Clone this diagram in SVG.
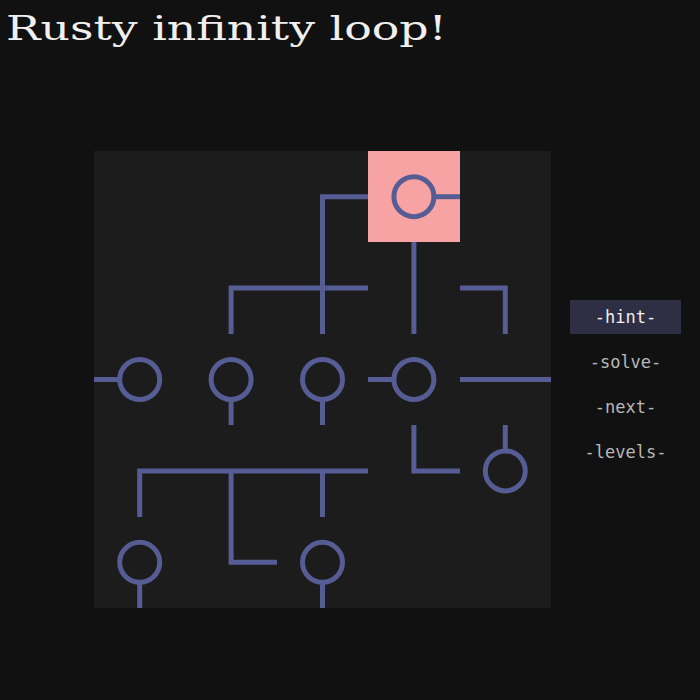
<svg xmlns="http://www.w3.org/2000/svg" width="700" height="700" viewBox="0 0 700 700">
<style>
.p{fill:none;stroke:#565c94;stroke-width:5}
.m{font-family:"DejaVu Sans Mono",monospace;font-size:17px;fill:#b8b8b8;text-anchor:middle}
</style>
<rect width="700" height="700" fill="#111111"/>
<text x="6" y="40" font-family="DejaVu Serif,serif" font-size="34" fill="#f0f0f0" textLength="441" lengthAdjust="spacingAndGlyphs">Rusty infinity loop!</text>
<rect x="94" y="151" width="457" height="457" fill="#1c1c1c"/>
<rect x="368" y="151" width="92" height="91" fill="#f8a3a3"/>
<g id="tiles" class="p">
<path d="M368 196.7H322.5V242"/>
<circle cx="413.9" cy="196.7" r="20"/><path d="M433.9 196.7H460"/>
<path d="M277 288.1H231.1V334"/>
<path d="M277 288.1H368M322.5 242V334"/>
<path d="M413.9 242V334"/>
<path d="M460 288.1H505.3V334"/>
<circle cx="139.7" cy="379.5" r="20"/><path d="M119.7 379.5H94"/>
<circle cx="231.1" cy="379.5" r="20"/><path d="M231.1 399.5V425"/>
<circle cx="322.5" cy="379.5" r="20"/><path d="M322.5 399.5V425"/>
<circle cx="413.9" cy="379.5" r="20"/><path d="M393.9 379.5H368"/>
<path d="M460 379.5H551"/>
<path d="M185 470.9H139.7V517"/>
<path d="M185 470.9H277M231.1 470.9V517"/>
<path d="M277 470.9H368M322.5 470.9V517"/>
<path d="M413.9 425V470.9H460"/>
<circle cx="505.3" cy="470.9" r="20"/><path d="M505.3 450.9V425"/>
<circle cx="139.7" cy="562.3" r="20"/><path d="M139.7 582.3V608"/>
<path d="M231.1 517V562.3H277"/>
<circle cx="322.5" cy="562.3" r="20"/><path d="M322.5 582.3V608"/>
</g>
<g id="menu">
<rect x="570" y="300" width="111" height="34" fill="#2e2e44"/>
<text class="m" x="625.5" y="323" fill="#f0f0f0" style="fill:#f0f0f0">-hint-</text>
<text class="m" x="625.5" y="368">-solve-</text>
<text class="m" x="625.5" y="413">-next-</text>
<text class="m" x="625.5" y="458">-levels-</text>
</g>
</svg>
